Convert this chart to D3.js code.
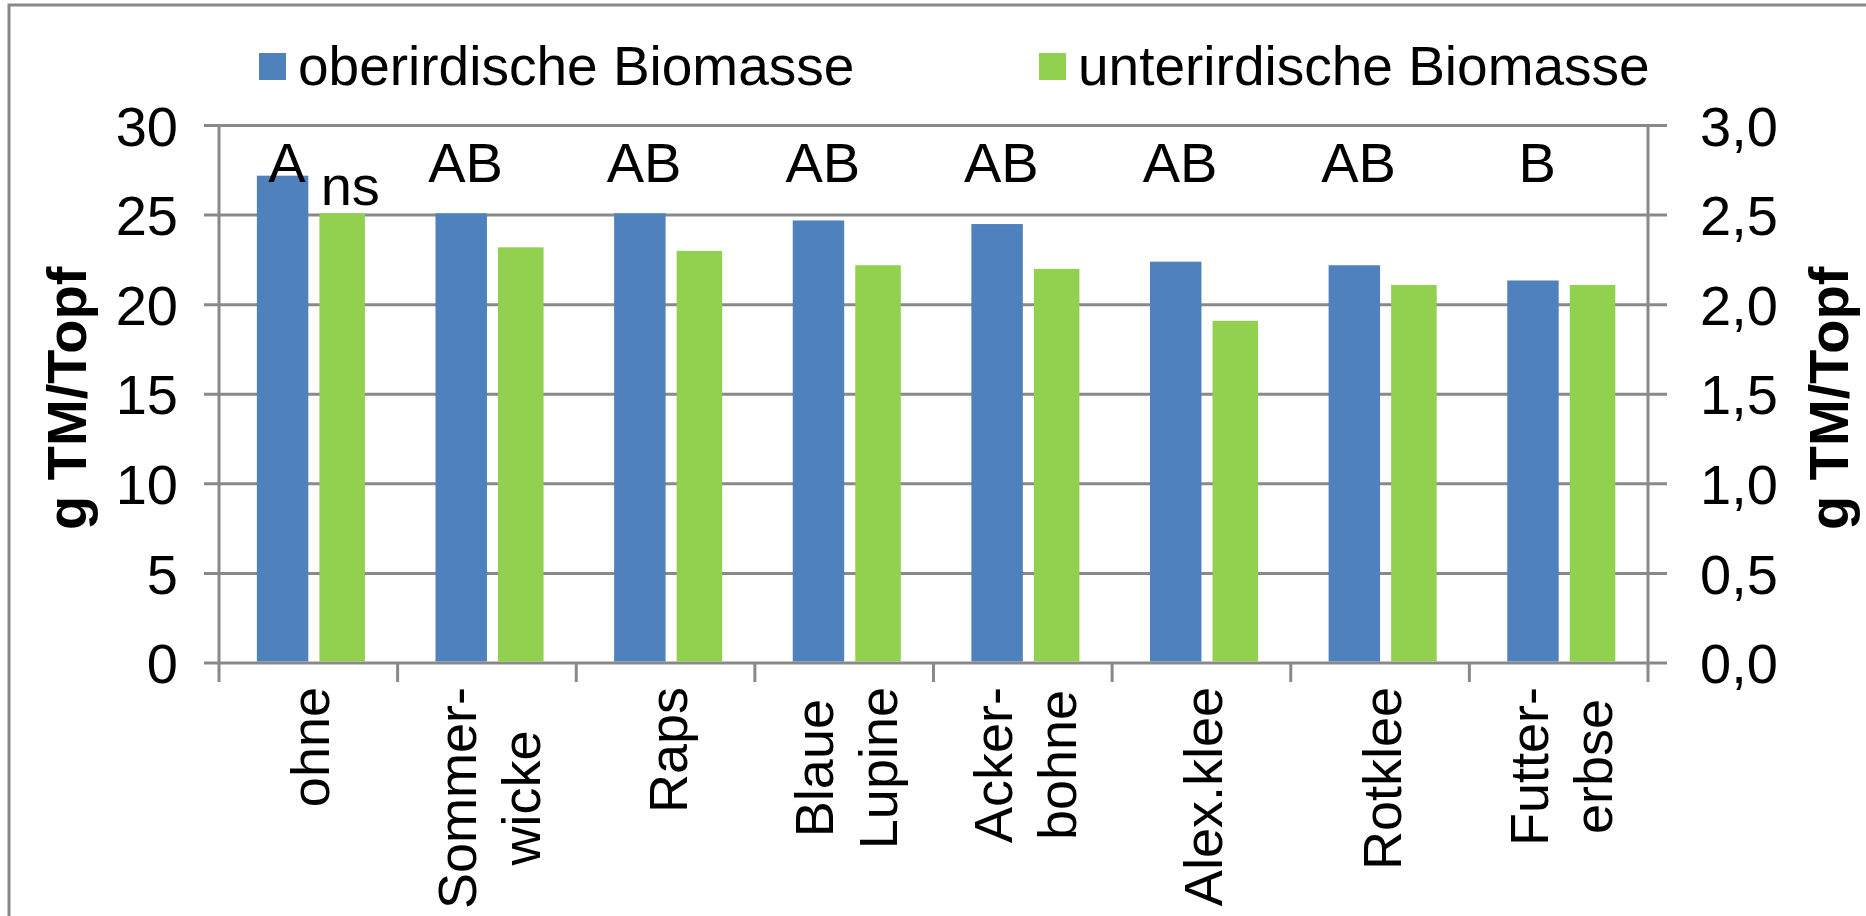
<!DOCTYPE html>
<html>
<head>
<meta charset="utf-8">
<script src="https://cdnjs.cloudflare.com/ajax/libs/d3/7.8.5/d3.min.js"></script>
<style>
  html, body { margin: 0; padding: 0; background: #ffffff; }
  svg { display: block; }
  text { font-family: "Liberation Sans", Arial, sans-serif; fill: #000; }
</style>
</head>
<body>
<svg id="chart" width="1866" height="916"></svg>
<script>
// ---------- data ----------
const categories = ["ohne", "Sommer-\nwicke", "Raps", "Blaue\nLupine", "Acker-\nbohne", "Alex.klee", "Rotklee", "Futter-\nerbse"];
const oberirdisch = [27.2, 25.1, 25.1, 24.7, 24.5, 22.4, 22.2, 21.35];      // left axis
const unterirdisch = [2.51, 2.32, 2.30, 2.22, 2.20, 1.91, 2.11, 2.11];      // right axis
const sigShoot = ["A", "AB", "AB", "AB", "AB", "AB", "AB", "B"];
const sigRoot = ["ns", "", "", "", "", "", "", ""];
const leftTicks = [0, 5, 10, 15, 20, 25, 30];
const rightTicks = [0, 0.5, 1.0, 1.5, 2.0, 2.5, 3.0];
const seriesNames = ["oberirdische Biomasse", "unterirdische Biomasse"];
const axisTitle = "g TM/Topf";

// ---------- layout ----------
const W = 1866, H = 916;
const plot = { left: 219, right: 1648, top: 125.5, bottom: 663 };
const FS = 56;
const gridColor = "#898989";
const colors = ["#4F81BD", "#92D050"];

const svg = d3.select("#chart");

// outer border (right/bottom edges fall outside the picture)
svg.append("rect")
  .attr("x", 9).attr("y", 5).attr("width", W + 20).attr("height", H + 20)
  .attr("fill", "#fff").attr("stroke", gridColor).attr("stroke-width", 3);

const x = d3.scaleBand().domain(categories).range([plot.left, plot.right]).paddingInner(0).paddingOuter(0);
const yL = d3.scaleLinear().domain([0, 30]).range([plot.bottom, plot.top]);
const yR = d3.scaleLinear().domain([0, 3]).range([plot.bottom, plot.top]);
const bw = x.bandwidth();

// gridlines (extend beyond both axes as tick marks)
const tickOut = 15;
svg.append("g").selectAll("line").data(leftTicks).join("line")
  .attr("x1", plot.left - tickOut).attr("x2", plot.right + tickOut + 4)
  .attr("y1", d => yL(d)).attr("y2", d => yL(d))
  .attr("stroke", gridColor).attr("stroke-width", 3);

// bars
const g = svg.append("g");
g.selectAll("rect.b1").data(oberirdisch).join("rect")
  .attr("class", "b1")
  .attr("x", (d, i) => x(categories[i]) + bw * 0.212)
  .attr("width", bw * 0.288)
  .attr("y", d => yL(d))
  .attr("height", d => yL(0) - yL(d) - 1.5)
  .attr("fill", colors[0]);
g.selectAll("rect.b2").data(unterirdisch).join("rect")
  .attr("class", "b2")
  .attr("x", (d, i) => x(categories[i]) + bw * 0.562)
  .attr("width", bw * 0.255)
  .attr("y", d => yR(d))
  .attr("height", d => yR(0) - yR(d) - 1.5)
  .attr("fill", colors[1]);

// vertical axes
[plot.left, plot.right].forEach(xx => {
  svg.append("line").attr("x1", xx).attr("x2", xx)
    .attr("y1", plot.top - 1.5).attr("y2", plot.bottom + 19)
    .attr("stroke", gridColor).attr("stroke-width", 3);
});
// x ticks at category boundaries
const bounds = categories.slice(1).map(c => x(c));
svg.append("g").selectAll("line").data(bounds).join("line")
  .attr("x1", d => d).attr("x2", d => d)
  .attr("y1", plot.bottom).attr("y2", plot.bottom + 19)
  .attr("stroke", gridColor).attr("stroke-width", 3);

// left tick labels
svg.append("g").selectAll("text").data(leftTicks).join("text")
  .attr("x", 178).attr("y", d => yL(d)).attr("dy", "0.36em")
  .attr("text-anchor", "end").attr("font-size", FS)
  .text(d => d3.format("d")(d));
// right tick labels
svg.append("g").selectAll("text").data(rightTicks).join("text")
  .attr("x", 1700).attr("y", d => yR(d)).attr("dy", "0.36em")
  .attr("text-anchor", "start").attr("font-size", FS)
  .text(d => d3.format(".1f")(d).replace(".", ","));

// axis titles
const midY = (plot.top + plot.bottom) / 2 + 4;
[86, 1848].forEach(bx => {
  svg.append("text")
    .attr("transform", `translate(${bx},${midY}) rotate(-90)`)
    .attr("text-anchor", "middle").attr("font-size", FS).attr("font-weight", "bold")
    .text(axisTitle);
});

// category labels (rotated, multi-line centred)
const catFS = 54;
categories.forEach(c => {
  const lines = c.split("\n");
  const grp = svg.append("g");
  const texts = lines.map(l => grp.append("text").attr("font-size", catFS).attr("text-anchor", "middle").text(l));
  const maxLen = d3.max(texts, t => t.node().getComputedTextLength());
  const cx = x(c) + bw / 2;
  const lh = 64;
  grp.attr("transform", `translate(${cx},${687 + maxLen / 2}) rotate(-90)`);
  texts.forEach((t, i) => {
    t.attr("x", 0).attr("y", (i - (lines.length - 1) / 2) * lh + 21);
  });
});

// significance letters
svg.append("g").selectAll("text").data(sigShoot).join("text")
  .attr("x", (d, i) => x(categories[i]) + bw * 0.38)
  .attr("y", 181.5)
  .attr("text-anchor", "middle").attr("font-size", FS)
  .text(d => d);
svg.append("g").selectAll("text").data(sigRoot).join("text")
  .attr("x", (d, i) => x(categories[i]) + bw * 0.735)
  .attr("y", 205)
  .attr("text-anchor", "middle").attr("font-size", FS)
  .text(d => d);

// legend
const legendX = [259, 1039];
seriesNames.forEach((s, i) => {
  svg.append("rect").attr("x", legendX[i]).attr("y", 53).attr("width", 27).attr("height", 27).attr("fill", colors[i]);
  svg.append("text").attr("x", legendX[i] + 39).attr("y", 85).attr("font-size", 55).text(s);
});
</script>
</body>
</html>
